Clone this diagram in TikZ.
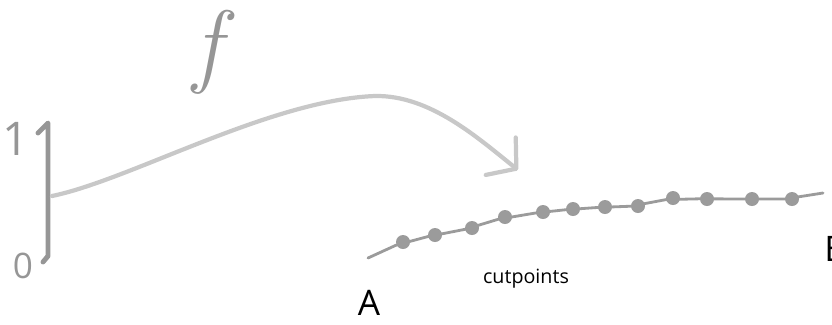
\documentclass[tikz,border=0pt]{standalone}
\usepackage{fontspec}
\setmainfont{Open Sans}
\newfontfamily\lmfont{Latin Modern Roman}
\usetikzlibrary{arrows.meta,positioning}
\definecolor{sketchgray}{RGB}{150,150,150}
\definecolor{arrowgray}{RGB}{200,200,200}
\definecolor{dotgray}{RGB}{155,155,155}
\tikzset{
    handlabel/.style={text=sketchgray, inner sep=0pt, font=\fontsize{30}{32}\selectfont},
    interval/.style={draw=sketchgray, line width=3.5pt, line cap=round, line join=round},
    maparrow/.style={draw=arrowgray, line width=3pt, line cap=round, -{Straight Barb[length=5mm, width=12mm, round]}},
    curveline/.style={draw=dotgray, line width=2pt, line cap=round},
    cutdot/.style={circle, fill=dotgray, inner sep=0pt, minimum size=3.5mm},
    pointlabel/.style={inner sep=0pt, font=\fontsize{25}{27}\selectfont}
}

\begin{document}
\begin{tikzpicture}[x=0.025cm, y=-0.025cm]
    \useasboundingbox (0,0) rectangle (832,324);

    \node[handlabel, font=\fontsize{33}{35}\selectfont] (one) at (16,139) {1};
    \node[handlabel, font=\fontsize{25}{27}\selectfont] (zero) at (23,266) {0};
    \node[handlabel, font=\lmfont\itshape\fontsize{66}{70}\selectfont] (fname) at (207,52) {f};

    \coordinate (top) at (48,123);
    \coordinate (bot) at (48,256);
    \draw[interval] (38,133) -- (top) -- (bot) -- (43,262);

    \coordinate (fstart) at (52,196);
    \coordinate (ftip) at (518,170);
    \draw[maparrow] (fstart) .. controls (130,180) and (270,100) .. (375,96)
        .. controls (430,95) and (478,138) .. (ftip);

    \coordinate (c0) at (368,258);
    \foreach \i/\x/\y in {1/403/242, 2/435/235, 3/472/228, 4/505/217, 5/543/212, 6/573/209,
        7/605/207, 8/638/206, 9/673/198, 10/707/199, 11/752/199, 12/792/199}
        \node[cutdot] (c\i) at (\x,\y) {};
    \coordinate (c13) at (823,193);
    \draw[curveline] (c0) foreach \i in {1,...,13} { -- (c\i) };

    \node[pointlabel] (A) at (369,303) {A};
    \node[pointlabel, anchor=west] (B) at (824,249) {B};
    \node[font=\fontsize{14}{16}\selectfont] (cutlabel) at (526,279) {cutpoints};
\end{tikzpicture}
\end{document}
